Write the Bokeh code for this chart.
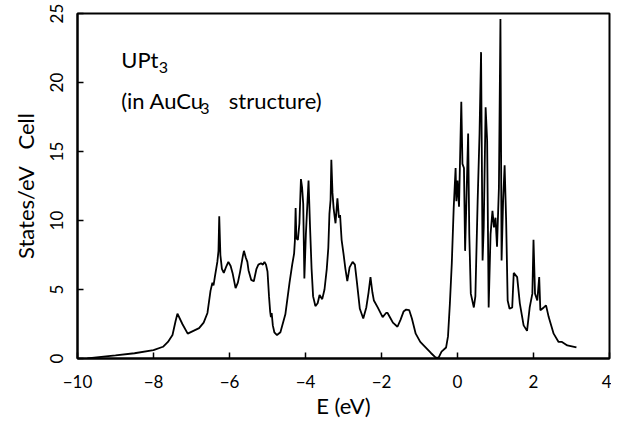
from bokeh.plotting import figure
from bokeh.models import Range1d, Label, FixedTicker, ColumnDataSource
from bokeh.embed import file_html
from bokeh.resources import INLINE

energy = [-9.74, -9.5, -9.0, -8.5, -8.0, -7.75, -7.62, -7.5, -7.42, -7.37, -7.24, -7.1,
          -6.95, -6.8, -6.68, -6.58, -6.5, -6.45, -6.42, -6.38, -6.32, -6.29, -6.27, -6.24,
          -6.2, -6.15, -6.08, -6.03, -5.97, -5.92, -5.84, -5.78, -5.72, -5.65, -5.62, -5.57,
          -5.53, -5.5, -5.43, -5.36, -5.29, -5.24, -5.17, -5.12, -5.08, -5.04, -5.0, -4.96,
          -4.93, -4.91, -4.89, -4.86, -4.82, -4.75, -4.66, -4.53, -4.42, -4.35, -4.3, -4.28,
          -4.26, -4.24, -4.2, -4.16, -4.12, -4.09, -4.06, -4.03, -3.99, -3.92, -3.88, -3.84,
          -3.8, -3.74, -3.68, -3.63, -3.56, -3.5, -3.44, -3.4, -3.37, -3.34, -3.32, -3.29,
          -3.26, -3.23, -3.21, -3.16, -3.12, -3.09, -3.05, -3.0, -2.95, -2.9, -2.84, -2.76,
          -2.7, -2.65, -2.57, -2.48, -2.4, -2.34, -2.29, -2.24, -2.2, -2.1, -1.97, -1.88,
          -1.84, -1.76, -1.7, -1.58, -1.5, -1.42, -1.35, -1.27, -1.2, -1.1, -0.98, -0.84,
          -0.7, -0.58, -0.5, -0.42, -0.3, -0.25, -0.2, -0.15, -0.1, -0.05, -0.03, 0.0,
          0.04, 0.1, 0.13, 0.17, 0.2, 0.24, 0.28, 0.31, 0.35, 0.43, 0.47, 0.53,
          0.58, 0.62, 0.66, 0.69, 0.74, 0.78, 0.82, 0.87, 0.92, 0.96, 1.0, 1.04,
          1.09, 1.13, 1.16, 1.2, 1.24, 1.28, 1.32, 1.37, 1.44, 1.48, 1.57, 1.64,
          1.74, 1.83, 1.9, 1.97, 2.0, 2.04, 2.1, 2.15, 2.18, 2.27, 2.33, 2.4,
          2.53, 2.66, 2.75, 2.89, 3.13]
dos = [0.0, 0.08, 0.22, 0.38, 0.6, 0.85, 1.2, 1.7, 2.7, 3.25, 2.5, 1.8,
       2.0, 2.2, 2.6, 3.3, 4.9, 5.5, 5.3, 6.0, 7.0, 7.8, 10.3, 7.5,
       6.5, 6.2, 6.7, 7.0, 6.7, 6.2, 5.1, 5.5, 6.3, 7.4, 7.8, 7.3,
       7.0, 6.4, 5.7, 5.6, 6.5, 6.8, 6.9, 6.8, 7.0, 6.8, 6.3, 4.5,
       3.4, 3.0, 3.3, 2.4, 1.9, 1.7, 1.9, 3.2, 5.5, 6.8, 7.6, 8.5,
       10.9, 8.7, 8.6, 9.8, 13.0, 12.4, 11.2, 5.8, 9.0, 12.9, 9.5, 6.5,
       4.5, 3.8, 4.0, 4.6, 4.3, 5.0, 6.5, 8.0, 10.5, 11.5, 14.4, 12.0,
       10.9, 10.2, 9.8, 11.6, 10.2, 10.4, 8.6, 7.6, 6.5, 5.6, 6.6, 7.0,
       6.8, 5.6, 3.6, 2.9, 3.7, 4.8, 5.9, 4.8, 4.2, 3.7, 3.0, 3.3,
       3.3, 2.9, 2.6, 2.3, 2.8, 3.4, 3.55, 3.5, 2.9, 1.8, 1.2, 0.8,
       0.4, 0.08, 0.05, 0.5, 0.8, 1.6, 4.0, 6.9, 10.9, 13.8, 11.4, 12.9,
       11.0, 18.6, 14.1, 13.8, 7.8, 12.0, 16.3, 9.0, 4.7, 3.7, 4.5, 11.4,
       16.3, 22.2, 7.1, 9.5, 18.2, 15.8, 3.7, 9.0, 10.7, 9.5, 10.2, 8.1,
       12.4, 24.6, 7.1, 11.4, 14.0, 10.0, 4.2, 3.6, 3.7, 6.2, 5.9, 4.0,
       2.4, 2.0, 3.7, 4.7, 8.6, 4.7, 4.2, 5.9, 3.5, 3.7, 3.85, 3.0,
       1.8, 1.2, 1.2, 0.95, 0.8]

x_ticks = [-10, -8, -6, -4, -2, 0, 2, 4]
y_ticks = [0, 5, 10, 15, 20, 25]
x_tick_labels = {t: (str(t).replace("-", "\u2212")) for t in x_ticks}

FONT = "Lato"

p = figure(width=611, height=424, x_range=Range1d(-10, 4), y_range=Range1d(0, 25),
           output_backend="svg", toolbar_location=None,
           min_border_left=77, min_border_top=13, min_border_right=2, min_border_bottom=66)

src = ColumnDataSource(data=dict(e=energy, d=dos))
p.line("e", "d", source=src, line_color="black", line_width=1.8)

p.xgrid.visible = False
p.ygrid.visible = False
p.outline_line_color = "black"
p.outline_line_width = 2
p.background_fill_color = "white"
p.border_fill_color = "white"

for ax in (p.xaxis[0], p.yaxis[0]):
    ax.axis_line_color = "black"
    ax.axis_line_width = 2
    ax.major_tick_in = 6
    ax.major_tick_out = 0
    ax.major_tick_line_width = 1.5
    ax.minor_tick_line_color = None
    ax.major_label_text_font = FONT
    ax.major_label_text_font_size = "17px"
    ax.major_label_text_color = "black"
    ax.axis_label_text_font = FONT
    ax.axis_label_text_font_style = "normal"
    ax.axis_label_text_font_size = "22px"
    ax.axis_label_text_color = "black"

p.xaxis[0].ticker = FixedTicker(ticks=x_ticks)
p.xaxis[0].major_label_overrides = x_tick_labels
p.xaxis[0].major_label_standoff = 16
p.xaxis[0].axis_label = "E (eV)"
p.xaxis[0].axis_label_standoff = 1

p.yaxis[0].ticker = FixedTicker(ticks=y_ticks)
p.yaxis[0].major_label_orientation = "vertical"
p.yaxis[0].major_label_standoff = 15
p.yaxis[0].axis_label = "States/eV\u2002 Cell"
p.yaxis[0].axis_label_standoff = 8

def lab(x, y, t, size):
    p.add_layout(Label(x=x, y=y, text=t, text_font=FONT, text_font_size=size,
                       text_color="black", text_baseline="alphabetic", text_align="left"))

lab(-8.85, 21.7, "UPt", "22px")
lab(-7.86, 21.1, "3", "16px")
lab(-8.85, 18.7, "(in AuCu", "22px")
lab(-6.77, 18.1, "3", "16px")
lab(-6.02, 18.7, "structure)", "22px")

open("out.html", "w").write(file_html(p, INLINE))
